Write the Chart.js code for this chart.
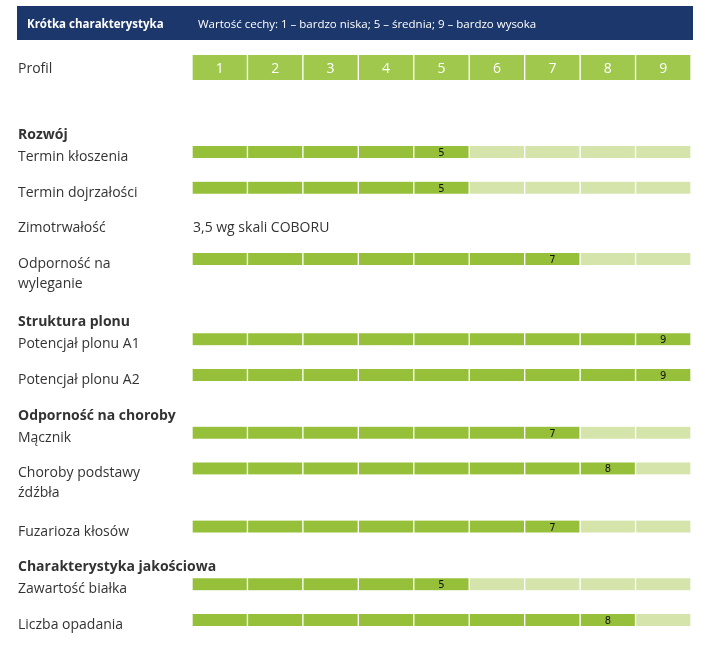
<!DOCTYPE html>
<html>
<head>
<meta charset="utf-8">
<script src="https://cdn.jsdelivr.net/npm/chart.js@4"></script>
<style>
  body { margin: 0; background: #fff; }
  canvas { display: block; }
</style>
</head>
<body>
<canvas id="traitsChart" width="701" height="651"></canvas>
<script>
const headerTitle = 'Krótka charakterystyka';
const headerScale = 'Wartość cechy: 1 – bardzo niska; 5 – średnia; 9 – bardzo wysoka';
const profileLabel = 'Profil';
const profileTicks = ['1', '2', '3', '4', '5', '6', '7', '8', '9'];

const sections = ['Rozwój', 'Struktura plonu', 'Odporność na choroby', 'Charakterystyka jakościowa'];
const traitSection = [0, 0, 0, 0, 1, 1, 2, 2, 2, 3, 3];
const traitNames = [
  ['Termin kłoszenia'],
  ['Termin dojrzałości'],
  ['Zimotrwałość'],
  ['Odporność na', 'wyleganie'],
  ['Potencjał plonu A1'],
  ['Potencjał plonu A2'],
  ['Mącznik'],
  ['Choroby podstawy', 'źdźbła'],
  ['Fuzarioza kłosów'],
  ['Zawartość białka'],
  ['Liczba opadania']
];
const traitScores = [5, 5, null, 7, 9, 9, 7, 8, 7, 5, 8];
const traitNotes = [null, null, '3,5 wg skali COBORU', null, null, null, null, null, null, null, null];

// Colours
const navy = '#1c376b';
const profileGreen = '#a0c84d';
const scoreGreen = '#97c03a';
const restGreen = '#d4e4ab';
const textColor = '#333333';

// Row layout (y runs in pixels, top-down)
const profileY = 67.5;
const firstRowY = 152;
const rowStep = 35.7;
const headingStep = 22;
const extraLineStep = 22.5;

const rowY = [];
let y = firstRowY;
traitNames.forEach((lines, i) => {
  if (i > 0) {
    y += rowStep + (traitNames[i - 1].length - 1) * extraLineStep;
    if (traitSection[i] !== traitSection[i - 1]) y += headingStep;
  }
  rowY.push(y);
});

const cellBorder = { left: 1, right: 1, top: 0, bottom: 0 };

const profileDatasets = profileTicks.map((tick, i) => ({
  label: 'Profil ' + tick,
  data: [{ x: 1, y: profileY }],
  backgroundColor: profileGreen,
  borderColor: '#ffffff',
  borderWidth: cellBorder,
  borderSkipped: false,
  barThickness: 25
}));

const traitDatasets = profileTicks.map((tick, i) => ({
  label: 'Poziom ' + tick,
  data: traitScores
    .map((score, r) => ({ x: 1, y: rowY[r], row: r }))
    .filter(p => traitScores[p.row] !== null),
  backgroundColor: ctx => (ctx.raw && i < traitScores[ctx.raw.row]) ? scoreGreen : restGreen,
  borderColor: '#ffffff',
  borderWidth: cellBorder,
  borderSkipped: false,
  barThickness: 12
}));

const sheetPlugin = {
  id: 'sheet',
  beforeDatasetsDraw(chart) {
    const c = chart.ctx;
    c.save();
    c.fillStyle = navy;
    c.fillRect(17, 6, 676, 34);
    c.fillStyle = '#ffffff';
    c.textBaseline = 'alphabetic';
    c.font = 'bold 11.5px "Open Sans"';
    c.fillText(headerTitle, 27, 28);
    c.font = '11.5px "Open Sans"';
    c.fillText(headerScale, 198, 28);
    c.restore();
  },
  afterDatasetsDraw(chart) {
    const c = chart.ctx;
    const yScale = chart.scales.y;
    c.save();
    c.textBaseline = 'alphabetic';
    c.textAlign = 'left';
    c.fillStyle = textColor;
    c.font = '14px "Open Sans"';
    c.fillText(profileLabel, 18, yScale.getPixelForValue(profileY) + 5);

    traitNames.forEach((lines, r) => {
      const py = yScale.getPixelForValue(rowY[r]);
      if (r === 0 || traitSection[r] !== traitSection[r - 1]) {
        c.font = 'bold 14px "Open Sans"';
        c.fillText(sections[traitSection[r]], 18, py + 9 - headingStep);
      }
      c.font = '14px "Open Sans"';
      lines.forEach((line, k) => c.fillText(line, 18, py + 9 + k * 20));
      if (traitNotes[r]) c.fillText(traitNotes[r], 193, py + 9);
    });

    // profile digits
    c.textAlign = 'center';
    c.fillStyle = '#ffffff';
    c.font = '14px "Open Sans"';
    profileDatasets.forEach((ds, i) => {
      const el = chart.getDatasetMeta(i).data[0];
      c.fillText(profileTicks[i], (el.x + el.base) / 2, el.y + 5);
    });

    // score in the last filled cell
    c.fillStyle = '#111111';
    c.font = '10px "DejaVu Sans"';
    traitDatasets[0].data.forEach((p, k) => {
      const score = traitScores[p.row];
      const el = chart.getDatasetMeta(profileTicks.length + score - 1).data[k];
      c.fillText(String(score), (el.x + el.base) / 2, el.y + 4);
    });
    c.restore();
  }
};

new Chart(document.getElementById('traitsChart'), {
  type: 'bar',
  data: { datasets: [...profileDatasets, ...traitDatasets] },
  options: {
    indexAxis: 'y',
    responsive: false,
    animation: false,
    layout: { padding: { left: 192, right: 10, top: 0, bottom: 0 } },
    scales: {
      x: { type: 'linear', min: 0, max: 9, stacked: true, offset: false, display: false },
      y: { type: 'linear', min: 0, max: 651, reverse: true, stacked: true, offset: false, display: false }
    },
    plugins: {
      legend: { display: false },
      tooltip: { enabled: false }
    }
  },
  plugins: [sheetPlugin]
});
</script>
</body>
</html>
